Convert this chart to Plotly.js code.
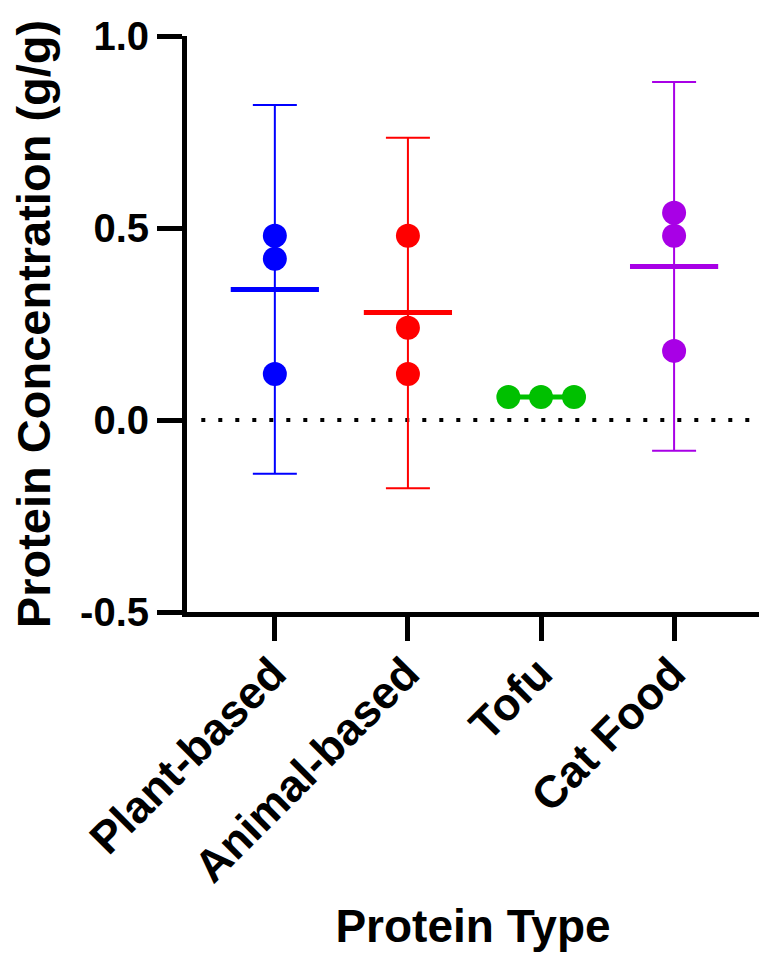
<!DOCTYPE html>
<html>
<head>
<meta charset="utf-8">
<script src="https://cdn.plot.ly/plotly-3.0.1.min.js"></script>
<style>html,body{margin:0;padding:0;background:#fff;}#chart{width:759px;height:957px;}</style>
</head>
<body>
<div id="chart"></div>
<script>
// ---- data ----
const categories = ['Plant-based', 'Animal-based', 'Tofu', 'Cat Food'];
const plantBased = [0.48, 0.42, 0.12];
const animalBased = [0.48, 0.24, 0.12];
const tofu = [0.06, 0.06, 0.06];
const catFood = [0.54, 0.48, 0.18];
const groupMeans = [0.34, 0.28, 0.06, 0.40];
const ciUpper = [0.82, 0.735, 0.06, 0.88];
const ciLower = [-0.14, -0.178, 0.06, -0.08];
// horizontal scatter offsets of each point within its column (category units)
const plantOffsets = [0, 0, 0];
const animalOffsets = [0, 0, 0];
const tofuOffsets = [-0.245, 0, 0.248];
const catOffsets = [0, 0, 0];
const colors = ['#0000ff', '#ff0000', '#00c000', '#a800e6'];
const yTickVals = [-0.5, 0.0, 0.5, 1.0];

const groups = [plantBased, animalBased, tofu, catFood];
const offsets = [plantOffsets, animalOffsets, tofuOffsets, catOffsets];

const traces = [];
groups.forEach((vals, i) => {
  // mean line + 95% CI error bar
  traces.push({
    type: 'scatter', mode: 'markers',
    x: [i], y: [groupMeans[i]],
    marker: {symbol: 'line-ew', size: 63, color: colors[i], line: {color: colors[i], width: 5}},
    error_y: {
      type: 'data', symmetric: false,
      array: [ciUpper[i] - groupMeans[i]],
      arrayminus: [groupMeans[i] - ciLower[i]],
      color: colors[i], thickness: 2, width: 22,
      visible: ciUpper[i] !== ciLower[i]
    },
    hoverinfo: 'skip', showlegend: false, cliponaxis: false
  });
  // individual points
  traces.push({
    type: 'scatter', mode: 'markers',
    x: vals.map((v, k) => i + offsets[i][k]), y: vals,
    marker: {symbol: 'circle', size: 24, color: colors[i], line: {width: 0}},
    showlegend: false, cliponaxis: false, name: categories[i]
  });
});

const boldFont = (size) => ({family: 'Liberation Sans, Arial, sans-serif', size: size, color: '#000', weight: 'bold'});

const layout = {
  width: 759, height: 957,
  margin: {l: 187, r: 0, t: 36, b: 345, pad: 0},
  paper_bgcolor: '#fff', plot_bgcolor: '#fff',
  showlegend: false,
  xaxis: {
    range: [-0.66, 3.638],
    tickmode: 'array', tickvals: categories.map((c, i) => i), ticktext: categories,
    tickangle: -45,
    ticks: 'outside', ticklen: 24, tickwidth: 5, tickcolor: '#000',
    ticklabelstandoff: -12, ticklabelshift: -2,
    showline: true, linewidth: 5, linecolor: '#000',
    showgrid: false, zeroline: false,
    tickfont: boldFont(45),
    title: {text: 'Protein Type', font: boldFont(46), standoff: 20},
    automargin: false, fixedrange: true
  },
  yaxis: {
    range: [-0.5, 1.0],
    tickmode: 'array', tickvals: yTickVals, ticktext: yTickVals.map(v => v.toFixed(1)),
    ticks: 'outside', ticklen: 25, tickwidth: 5, tickcolor: '#000',
    showline: true, linewidth: 5, linecolor: '#000',
    showgrid: false, zeroline: false,
    tickfont: boldFont(40),
    title: {text: 'Protein Concentration (g/g)', font: boldFont(47), standoff: 16},
    automargin: false, fixedrange: true
  },
  shapes: [{
    type: 'line', xref: 'paper', yref: 'y',
    x0: 0.025, x1: 1, y0: 0, y1: 0,
    line: {color: '#000', width: 4, dash: '4px,13px'},
    layer: 'below'
  }]
};

Plotly.newPlot('chart', traces, layout, {displayModeBar: false, staticPlot: true});
</script>
</body>
</html>
